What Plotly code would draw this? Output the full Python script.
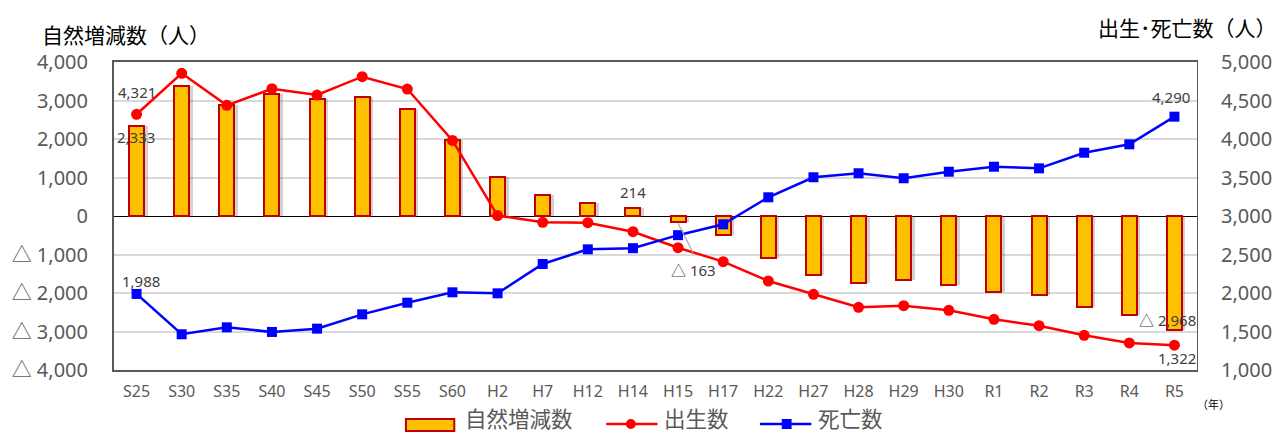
import plotly.graph_objects as go

# 年次
years = ["S25", "S30", "S35", "S40", "S45", "S50", "S55", "S60", "H2", "H7",
         "H12", "H14", "H15", "H17", "H22", "H27", "H28", "H29", "H30", "R1",
         "R2", "R3", "R4", "R5"]

# 出生数（人）
births = [4321, 4853, 4437, 4653, 4571, 4809, 4649, 3982, 3006, 2918,
          2913, 2796, 2588, 2407, 2156, 1983, 1814, 1835, 1775, 1658,
          1575, 1451, 1351, 1322]

# 死亡数（人）
deaths = [1988, 1464, 1554, 1494, 1537, 1723, 1874, 2009, 1996, 2377,
          2567, 2582, 2751, 2892, 3243, 3503, 3555, 3490, 3575, 3640,
          3619, 3822, 3931, 4290]

# 自然増減数（人）
natural = [2333, 3389, 2883, 3159, 3034, 3086, 2775, 1973, 1010, 541,
           346, 214, -163, -485, -1087, -1520, -1741, -1655, -1800, -1982,
           -2044, -2371, -2580, -2968]

left_ticks = [4000, 3000, 2000, 1000, 0, -1000, -2000, -3000, -4000]
right_ticks = [5000, 4500, 4000, 3500, 3000, 2500, 2000, 1500, 1000]


def fmt(v):
    """Negative numbers are written with a leading triangle."""
    return f"△ {abs(v):,}" if v < 0 else f"{v:,}"


W, H = 1284, 434
L, R, T, B = 111, 75, 62, 64
PW, PH = W - L - R, H - T - B


def px(x):
    return (x - L) / PW


def py(y):
    return (H - B - y) / PH


NUM_FONT = "Noto Sans, Noto Sans CJK JP, sans-serif"
JP_FONT = "Noto Sans CJK JP, sans-serif"
GRAY = "#595959"
LABEL = "#404040"
BAR_FILL = "#FFC000"
BAR_EDGE = "#C00000"

fig = go.Figure()

# soft shadow behind bars
fig.add_trace(go.Bar(
    x=years, y=natural, width=0.33, offset=-0.165 + 0.08,
    marker=dict(color="rgba(90,90,90,0.28)", line=dict(width=0)),
    hoverinfo="skip", showlegend=False, yaxis="y",
))
fig.add_trace(go.Bar(
    x=years, y=natural, width=0.33, offset=-0.165, name="自然増減数",
    marker=dict(color=BAR_FILL, line=dict(color=BAR_EDGE, width=2)),
    showlegend=False, yaxis="y",
))
fig.add_trace(go.Scatter(
    x=years, y=births, name="出生数", mode="lines+markers", yaxis="y2",
    line=dict(color="#FF0000", width=2.5),
    marker=dict(symbol="circle", size=11, color="#FF0000"),
    showlegend=False,
))
fig.add_trace(go.Scatter(
    x=years, y=deaths, name="死亡数", mode="lines+markers", yaxis="y2",
    line=dict(color="#0000FF", width=2.5),
    marker=dict(symbol="square", size=10, color="#0000FF"),
    showlegend=False,
))

ann = []


def label(text, x, y, yref, xs=0, ys=0):
    ann.append(dict(text=text, x=x, y=y, xref="x", yref=yref, xshift=xs, yshift=ys,
                    showarrow=False, font=dict(family=NUM_FONT, size=15, color=LABEL)))


label(fmt(births[0]), years[0], births[0], "y2", xs=0.5, ys=22)
label(fmt(natural[0]), years[0], natural[0], "y", xs=-0.5, ys=-11)
label(fmt(deaths[0]), years[0], deaths[0], "y2", xs=4, ys=13)
label(fmt(natural[11]), years[11], natural[11], "y", xs=0, ys=16)
label(fmt(natural[12]), years[12], natural[12], "y", xs=15, ys=-48)
label(fmt(deaths[-1]), years[-1], deaths[-1], "y2", xs=-3, ys=20)
label(fmt(natural[-1]), years[-1], natural[-1], "y", xs=-7, ys=10)
label(fmt(births[-1]), years[-1], births[-1], "y2", xs=2.5, ys=-13)


def text_at(text, cx, cy, size, color, family=JP_FONT):
    ann.append(dict(text=text, x=px(cx), y=py(cy), xref="paper", yref="paper",
                    xanchor="center", yanchor="middle", showarrow=False,
                    font=dict(family=family, size=size, color=color)))


# axis titles
text_at("自然増減数（人）", 123, 33.5, 21, "#000000")
text_at("出生･死亡数（人）", 1199, 27, 21, "#000000")
text_at("（年）", 1226, 404, 11, "#000000")

# legend
shapes = []
ly = py(424)
shapes.append(dict(type="rect", xref="paper", yref="paper",
                   x0=px(407), x1=px(456), y0=py(431), y1=py(419),
                   fillcolor=BAR_FILL, line=dict(color=BAR_EDGE, width=2)))
shapes.append(dict(type="line", xref="paper", yref="paper",
                   x0=px(610), x1=px(662), y0=ly, y1=ly,
                   line=dict(color="#FF0000", width=2.5)))
shapes.append(dict(type="circle", xref="paper", yref="paper",
                   x0=px(630), x1=px(640), y0=py(429), y1=py(419),
                   fillcolor="#FF0000", line=dict(width=0)))
shapes.append(dict(type="line", xref="paper", yref="paper",
                   x0=px(766), x1=px(818), y0=ly, y1=ly,
                   line=dict(color="#0000FF", width=2.5)))
shapes.append(dict(type="rect", xref="paper", yref="paper",
                   x0=px(788), x1=px(798), y0=py(429), y1=py(419),
                   fillcolor="#0000FF", line=dict(width=0)))
text_at("自然増減数", 522, 417.5, 21.5, GRAY)
text_at("出生数", 702, 417.5, 21.5, GRAY)
text_at("死亡数", 858, 417.5, 21.5, GRAY)

# leader line for the H15 label
shapes.append(dict(type="line", xref="x", yref="y", x0=12.0, y0=-190, x1=12.33, y1=-950,
                   line=dict(color="#A6A6A6", width=1.2)))

fig.update_layout(
    width=W, height=H,
    margin=dict(l=L, r=R, t=T, b=B, pad=0),
    paper_bgcolor="white", plot_bgcolor="white",
    barmode="overlay", bargap=0,
    showlegend=False,
    annotations=ann, shapes=shapes,
    xaxis=dict(
        type="category", categoryorder="array", categoryarray=years,
        range=[-0.5, len(years) - 0.5],
        showline=True, linecolor=GRAY, linewidth=2, mirror=True,
        showgrid=False, ticks="", ticklabelstandoff=6,
        tickfont=dict(family=NUM_FONT, size=16, color=GRAY),
    ),
    yaxis=dict(
        range=[-4000, 4000], tickvals=left_ticks, ticktext=[fmt(v) for v in left_ticks],
        showline=True, linecolor=GRAY, linewidth=2,
        showgrid=True, gridcolor="#D9D9D9", gridwidth=1.5,
        zeroline=True, zerolinecolor="#000000", zerolinewidth=1.2,
        ticks="", ticklabelstandoff=20,
        tickfont=dict(family=NUM_FONT, size=20, color=GRAY),
    ),
    yaxis2=dict(
        range=[1000, 5000], tickvals=right_ticks, ticktext=[fmt(v) for v in right_ticks],
        overlaying="y", side="right",
        showline=True, linecolor=GRAY, linewidth=1,
        showgrid=False, zeroline=False,
        ticks="", ticklabelstandoff=19,
        tickfont=dict(family=NUM_FONT, size=20, color=GRAY),
    ),
)

fig.write_html("out.html")
